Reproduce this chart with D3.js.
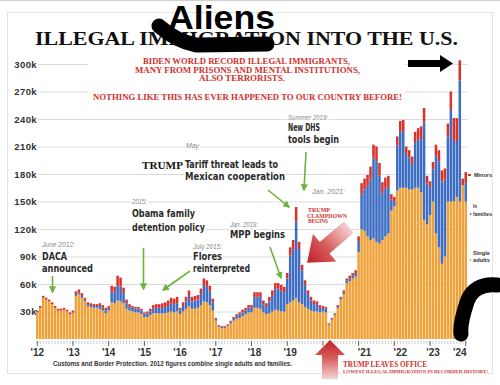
<!DOCTYPE html>
<html>
<head>
<meta charset="utf-8">
<script src="https://cdn.jsdelivr.net/npm/d3@7"></script>
<style>
  body { margin: 0; background: #fff; }
  svg { display: block; }
</style>
</head>
<body>
<div id="viz"></div>
<script>
'use strict';

// monthly encounters (thousands), Jan 2012 onwards
const singleAdults = [
  29, 34, 45, 43, 41, 38, 34, 31, 31, 32, 30, 27,
  28, 47, 49, 45, 41, 36, 35, 34, 34, 33, 31, 28,
  31, 40, 39, 42, 41, 39, 33, 31, 30, 29, 29, 27,
  24, 24, 26, 28, 28, 28, 28, 28, 29, 30, 29, 30,
  27, 30, 33, 36, 33, 33, 34, 37, 41, 40, 37, 31,
  20, 13, 12, 12, 14, 17, 20, 22, 23, 25, 27, 29,
  29, 34, 34, 33, 29, 27, 28, 30, 32, 31, 30, 30,
  38, 40, 42, 45, 40, 38, 35, 33, 31, 30, 30, 29,
  30, 29, 15, 21, 26, 34, 43, 49, 61, 63, 66, 68,
  95, 120, 118, 112, 108, 110, 106, 104, 108, 112, 115, 140,
  145, 162, 165, 165, 165, 163, 163, 165, 165, 160, 130, 125,
  135, 150, 115, 100, 82, 90, 150, 150, 150, 155, 150, 168,
  150
];

const inFamilies = [
  0, 0, 0, 0, 0, 0, 0, 0, 0, 0, 0, 0,
  1, 2, 2, 2, 2, 2, 2, 2, 2, 3, 3, 3,
  3, 12, 12, 16, 16, 11, 6, 4, 4, 4, 4, 4,
  3, 4, 4, 5, 6, 6, 6, 7, 7, 9, 9, 9,
  4, 6, 8, 11, 8, 9, 9, 12, 18, 17, 15, 9,
  2, 1, 1, 1, 1, 2, 2, 3, 4, 4, 4, 5,
  5, 12, 12, 13, 9, 8, 13, 17, 22, 24, 23, 21,
  28, 51, 56, 83, 58, 37, 24, 16, 11, 8, 8, 5,
  4, 4, 1, 1, 1, 2, 2, 2, 3, 3, 3, 4,
  12, 38, 45, 55, 66, 87, 88, 74, 51, 52, 51, 12,
  5, 49, 61, 62, 37, 35, 28, 49, 53, 58, 106, 45,
  31, 35, 85, 94, 90, 84, 71, 100, 66, 61, 132, 0,
  20
];

const minors = [
  2, 2, 2, 2, 2, 2, 2, 2, 2, 2, 2, 2,
  2, 3, 3, 3, 2, 2, 2, 2, 2, 3, 3, 3,
  2, 6, 6, 11, 10, 6, 4, 3, 2, 2, 2, 2,
  2, 2, 3, 4, 4, 4, 5, 5, 6, 6, 6, 7,
  3, 4, 5, 6, 5, 5, 5, 6, 7, 7, 6, 4,
  1, 1, 1, 1, 1, 1, 2, 2, 2, 3, 3, 3,
  3, 5, 5, 5, 4, 4, 5, 6, 7, 6, 6, 6,
  6, 9, 10, 16, 8, 6, 5, 4, 4, 4, 3, 3,
  2, 2, 1, 1, 1, 1, 1, 2, 2, 3, 3, 3,
  5, 12, 12, 12, 14, 15, 16, 14, 12, 12, 12, 6,
  5, 10, 12, 12, 8, 8, 8, 12, 12, 14, 16, 8,
  6, 8, 12, 12, 12, 12, 14, 20, 25, 25, 22, 7,
  12
];

const yearLabels = ["'12", "'13", "'14", "'15", "'16", "'17", "'18", "'19", "'21", "'22", "'23", "'24"];
const yearTickIdx = [0, 12, 24, 36, 48, 60, 73, 85, 110, 122, 133, 142];
const yTicks = [30, 60, 90, 120, 150, 180, 210, 240, 270, 300];

const W = 500, H = 385;
const narrow = "'Liberation Sans Narrow', 'DejaVu Sans Condensed', 'Liberation Sans', sans-serif";
const sans = "'Liberation Sans', Arial, sans-serif";
const serif = "'Liberation Serif', 'Times New Roman', serif";
const RED = '#cf2f2b';

const rows = singleAdults.map((a, i) => ({i, adults: a, families: inFamilies[i], minors: minors[i]}));
const keys = ['adults', 'families', 'minors'];
const colors = {adults: '#f0a23a', families: '#3e6ec4', minors: '#d8322c'};

const svg = d3.select('#viz')
  .append('svg')
    .attr('width', W)
    .attr('height', H);

const defs = svg.append('defs');

// outer frame
svg.append('line')
  .attr('x1', 0).attr('x2', W).attr('y1', 0.5).attr('y2', 0.5)
  .attr('stroke', '#cfcfcf');
svg.append('rect')
  .attr('x', 7.5).attr('y', 12.5)
  .attr('width', 485).attr('height', 361)
  .attr('fill', 'none')
  .attr('stroke', '#e3e3e3');

const x = d3.scaleBand()
  .domain(d3.range(rows.length))
  .range([36, 467])
  .paddingInner(0.15);

const y = d3.scaleLinear()
  .domain([0, 300])
  .range([339, 64]);

// gridlines + y labels
const yAxis = svg.append('g')
  .attr('transform', 'translate(38,0)')
  .call(d3.axisLeft(y).tickValues(yTicks).tickSize(-430).tickFormat(d => d + 'k'));
yAxis.select('.domain').remove();
yAxis.selectAll('line').attr('stroke', '#dcdcdc');
yAxis.selectAll('text')
  .attr('x', -1)
  .attr('font-family', sans)
  .attr('font-weight', 'bold')
  .attr('font-size', 9.5)
  .attr('letter-spacing', 0.4)
  .attr('fill', '#333');

// bars
const stacked = d3.stack().keys(keys)(rows);
svg.append('g')
  .selectAll('g')
  .data(stacked)
  .join('g')
    .attr('fill', d => colors[d.key])
  .selectAll('rect')
  .data(d => d)
  .join('rect')
    .attr('x', d => x(d.data.i))
    .attr('y', d => y(d[1]))
    .attr('width', x.bandwidth())
    .attr('height', d => Math.max(0, y(d[0]) - y(d[1])));

// month ticks
const mAxis = svg.append('g')
  .attr('transform', 'translate(0,341)')
  .call(d3.axisBottom(x).tickValues(d3.range(rows.length)).tickSize(3).tickFormat(''));
mAxis.select('.domain').remove();
mAxis.selectAll('line').attr('stroke', '#aaa').attr('stroke-width', 0.6);

const jAxis = svg.append('g')
  .attr('transform', 'translate(0,341)')
  .call(d3.axisBottom(x).tickValues(d3.range(0, rows.length, 12)).tickSize(5).tickFormat(''));
jAxis.select('.domain').remove();
jAxis.selectAll('line').attr('stroke', '#555').attr('stroke-width', 0.9);

const yrAxis = svg.append('g')
  .attr('transform', 'translate(0,346)')
  .call(d3.axisBottom(x).tickValues(yearTickIdx).tickSize(0).tickFormat((d, i) => yearLabels[i]));
yrAxis.select('.domain').remove();
yrAxis.selectAll('text')
  .attr('font-family', sans)
  .attr('font-weight', 'bold')
  .attr('font-size', 10)
  .attr('fill', '#333');

// helper for texts
function label(g, t, px, py, w, size, family, opts = {}) {
  const el = g.append('text')
    .attr('x', px)
    .attr('y', py)
    .attr('font-family', family)
    .attr('font-size', size)
    .attr('font-weight', opts.weight || 'bold')
    .attr('font-style', opts.style || 'normal')
    .attr('fill', opts.fill || '#222')
    .text(t);
  if (w) el.attr('textLength', w).attr('lengthAdjust', 'spacingAndGlyphs');
  if (opts.halo)
    el.attr('stroke', '#fff').attr('stroke-width', 3).attr('stroke-linejoin', 'round').attr('paint-order', 'stroke');
  return el;
}

const ann = svg.append('g');

// title
label(ann, 'ILLEGAL IMMIGRATION INTO THE U.S.', 35, 45, 423, 19.5, serif, {fill: '#111'});
ann.append('path')
  .attr('d', 'M159,26 Q176,41 196,45 L267,44')
  .attr('fill', 'none')
  .attr('stroke', '#000')
  .attr('stroke-width', 15)
  .attr('stroke-linecap', 'round')
  .attr('stroke-linejoin', 'round');
label(ann, 'Aliens', 168, 29, 107, 33, sans, {fill: '#000'});

// red text block
ann.append('rect').attr('x', 88).attr('y', 54).attr('width', 317).attr('height', 49).attr('fill', '#fff');
label(ann, 'BIDEN WORLD RECORD ILLEGAL IMMIGRANTS,', 143, 64, 207, 7.5, serif, {fill: RED});
label(ann, 'MANY FROM PRISONS AND MENTAL INSTITUTIONS,', 135, 72.5, 225, 7.5, serif, {fill: RED});
label(ann, 'ALSO TERRORISTS.', 199, 81, 86, 7.5, serif, {fill: RED});
label(ann, 'NOTHING LIKE THIS HAS EVER HAPPENED TO OUR COUNTRY BEFORE!', 93, 99.5, 309, 7.5, serif, {fill: RED});

// black arrow
ann.append('polygon')
  .attr('points', '408,60 440,60 440,55 453,63.5 440,72 440,67 408,67')
  .attr('fill', '#000');

// dated annotations
const dates = [
  ['June 2012:', 42, 247, 33],
  ['2015:', 132, 204, 15],
  ['July 2015:', 193, 249, 29],
  ['May', 186, 148, 13],
  ['Jan. 2019:', 230, 227, 28],
  ['Summer 2019:', 288, 120, 40],
  ['Jan. 2021:', 312, 194, 33]
];
dates.forEach(d => label(ann, d[0], d[1], d[2], d[3], 6.5, sans, {weight: 'normal', style: 'italic', fill: '#888', halo: true}));

const heads = [
  ['DACA', 42, 260, 25],
  ['announced', 42, 271.5, 51],
  ['Obama family', 132, 217, 63],
  ['detention policy', 132, 231, 73],
  ['Flores', 193, 259.5, 29],
  ['reinterpreted', 193, 272, 57],
  ['Tariff threat leads to', 185, 168, 93],
  ['Mexican cooperation', 185, 180, 100],
  ['MPP begins', 230, 238, 55],
  ['New DHS', 288, 131, 32],
  ['tools begin', 288, 143, 51]
];
heads.forEach(d => label(ann, d[0], d[1], d[2], d[3], 11, narrow, {fill: '#2a2a2a', halo: true}));
label(ann, 'TRUMP', 142, 168.5, 41, 11, serif, {fill: '#111', halo: true});

// green arrows
defs.append('marker')
  .attr('id', 'gh')
  .attr('viewBox', '0 0 10 10')
  .attr('refX', 8).attr('refY', 5)
  .attr('markerWidth', 4.5).attr('markerHeight', 4.5)
  .attr('orient', 'auto')
  .append('path')
    .attr('d', 'M0,0 L10,5 L0,10 z')
    .attr('fill', '#6db33f');

const greens = [
  [52.5, 276, 52.5, 292],
  [143.5, 248, 143.5, 289],
  [190, 271, 163, 290],
  [268, 190, 289, 207],
  [270, 247, 281, 278],
  [306, 152, 304, 190]
];
ann.selectAll('.g-arrow')
  .data(greens)
  .join('line')
    .attr('class', 'g-arrow')
    .attr('x1', d => d[0]).attr('y1', d => d[1])
    .attr('x2', d => d[2]).attr('y2', d => d[3])
    .attr('stroke', '#6db33f')
    .attr('stroke-width', 1.6)
    .attr('marker-end', 'url(#gh)');

// red clampdown text + arrows
label(ann, 'TRUMP', 308, 212, 22, 5.5, serif, {fill: RED});
label(ann, 'CLAMPDOWN', 307, 217.5, 40, 5.5, serif, {fill: RED});
label(ann, 'BEGINS', 308, 223, 20, 5.5, serif, {fill: RED});

const grad = defs.append('linearGradient')
  .attr('id', 'rg')
  .attr('x1', 0).attr('x2', 1).attr('y1', 0).attr('y2', 0);
grad.append('stop').attr('offset', 0).attr('stop-color', '#f6d3d3');
grad.append('stop').attr('offset', 0.55).attr('stop-color', '#d65a5a');
grad.append('stop').attr('offset', 1).attr('stop-color', '#c0202a');

function bigArrow(tx, ty, angle, len, sw, hl, hw) {
  const b = len - hl;
  ann.append('polygon')
    .attr('transform', `translate(${tx},${ty}) rotate(${angle})`)
    .attr('points', [[0, -sw], [b, -sw], [b, -hw], [len, 0], [b, hw], [b, sw], [0, sw]].join(' '))
    .attr('fill', 'url(#rg)');
}
bigArrow(349, 227, 139.6, 55, 7.5, 23, 18);
bigArrow(330, 379, -90, 39, 8, 15, 15);

label(ann, 'TRUMP LEAVES OFFICE', 343, 367, 84, 7.5, serif, {fill: RED});
label(ann, 'LOWEST ILLEGAL IMMIGRATION IN RECORDED HISTORY!', 343, 372.5, 145, 4.5, serif, {fill: RED});

// footnote
label(ann, 'Customs and Border Protection. 2012 figures combine single adults and families.', 53, 366, 239, 6.5, sans, {fill: '#333'});

// series labels on the right
label(ann, 'Minors', 474, 177, 18, 5.5, sans, {fill: '#333'});
label(ann, 'In', 473, 208, 4, 5.5, sans, {fill: '#333'});
label(ann, 'families', 473, 216, 19, 5.5, sans, {fill: '#333'});
label(ann, 'Single', 473, 255, 17, 5.5, sans, {fill: '#333'});
label(ann, 'adults', 473, 262, 17, 5.5, sans, {fill: '#333'});
ann.append('rect').attr('x', 468).attr('y', 174).attr('width', 3).attr('height', 2).attr('fill', colors.minors);
ann.append('circle').attr('cx', 470.5).attr('cy', 214).attr('r', 0.9).attr('fill', colors.families);
ann.append('circle').attr('cx', 470.5).attr('cy', 260).attr('r', 0.9).attr('fill', colors.adults);

// marker scribble bottom right
ann.append('path')
  .attr('d', 'M497,285 C482,283 471,290 467,302 C463,314 460,325 461,334')
  .attr('fill', 'none')
  .attr('stroke', '#000')
  .attr('stroke-width', 15)
  .attr('stroke-linecap', 'round');
</script>
</body>
</html>
